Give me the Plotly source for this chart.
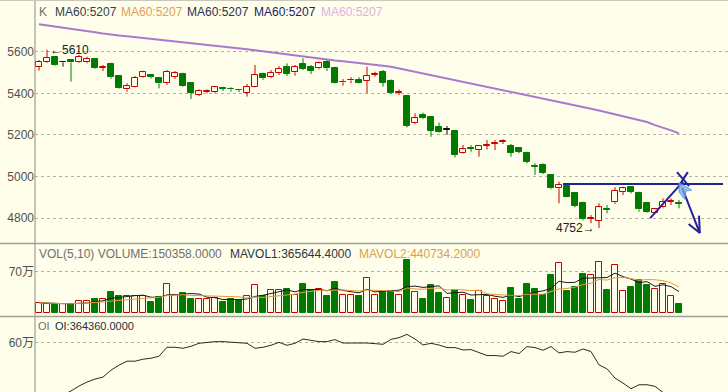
import plotly.graph_objects as go
import pandas as pd

W, H = 728, 392
BG = "#FEFEEA"
RED = "#C80000"
GREEN = "#007A00"
BLACK = "#101010"
BLUE = "#22229C"
FONT = "Liberation Sans, Arial, Noto Sans CJK SC, sans-serif"

# ---------------- data ----------------
opens = [5528, 5552, 5573, 5549, 5558, 5552, 5549, 5565, 5521, 5541,
         5483, 5419, 5432, 5477, 5488, 5475, 5448, 5477, 5493, 5448,
         5392, 5408, 5405, 5424, 5422, 5418, 5403, 5432, 5493, 5477,
         5496, 5525, 5501, 5541, 5525, 5520, 5552, 5520, 5452, 5462,
         5464, 5461, 5490, 5504, 5461, 5403, 5389, 5256, 5296, 5288,
         5240, 5224, 5219, 5111, 5137, 5127, 5149, 5157, 5165, 5146,
         5135, 5111, 5052, 5055, 5007, 4943, 4954, 4919, 4871, 4796,
         4788, 4845, 4876, 4927, 4948, 4922, 4871, 4826, 4852, 4877,
         4873]
highs = [5560, 5610, 5579, 5549, 5563, 5584, 5576, 5568, 5536, 5547,
         5485, 5448, 5483, 5509, 5493, 5477, 5512, 5507, 5499, 5451,
         5419, 5419, 5435, 5432, 5429, 5421, 5445, 5536, 5499, 5512,
         5531, 5544, 5536, 5568, 5536, 5552, 5560, 5528, 5469, 5477,
         5477, 5528, 5504, 5512, 5467, 5419, 5392, 5304, 5307, 5291,
         5259, 5243, 5224, 5151, 5151, 5151, 5175, 5175, 5179, 5156,
         5140, 5119, 5063, 5063, 5012, 4975, 4959, 4922, 4879, 4815,
         4871, 4863, 4948, 4951, 4951, 4927, 4874, 4847, 4895, 4895,
         4887]
lows = [5509, 5547, 5533, 5528, 5456, 5547, 5544, 5517, 5507, 5470,
        5421, 5408, 5429, 5474, 5470, 5424, 5440, 5469, 5432, 5373,
        5387, 5400, 5400, 5411, 5408, 5405, 5384, 5429, 5464, 5472,
        5488, 5483, 5485, 5512, 5493, 5515, 5507, 5448, 5437, 5448,
        5448, 5400, 5480, 5432, 5397, 5392, 5236, 5252, 5275, 5191,
        5211, 5200, 5092, 5108, 5119, 5095, 5130, 5127, 5156, 5095,
        5111, 5063, 5007, 5012, 4938, 4871, 4900, 4852, 4788, 4775,
        4752, 4823, 4868, 4911, 4919, 4831, 4826, 4823, 4847, 4863,
        4847]
closes = [5552, 5571, 5536, 5549, 5549, 5576, 5565, 5520, 5525, 5477,
          5424, 5435, 5475, 5501, 5477, 5448, 5504, 5496, 5435, 5403,
          5413, 5411, 5429, 5421, 5419, 5415, 5432, 5488, 5472, 5499,
          5517, 5493, 5528, 5517, 5509, 5544, 5520, 5451, 5456, 5466,
          5451, 5483, 5494, 5451, 5400, 5408, 5243, 5280, 5280, 5220,
          5216, 5224, 5103, 5130, 5133, 5146, 5153, 5161, 5169, 5114,
          5119, 5071, 5048, 5018, 4943, 4959, 4903, 4858, 4794, 4801,
          4852, 4840, 4932, 4943, 4927, 4842, 4831, 4842, 4879, 4881,
          4869]
volumes = [172000, 155000, 144000, 155000, 144000, 195000, 207000, 241000, 241000, 356000,
           282000, 293000, 293000, 282000, 184000, 270000, 500000, 299000, 345000, 230000,
           230000, 230000, 259000, 184000, 241000, 213000, 287000, 471000, 287000, 397000,
           397000, 402000, 310000, 488000, 385000, 414000, 287000, 529000, 299000, 299000,
           287000, 603000, 299000, 356000, 374000, 299000, 902000, 356000, 241000, 471000,
           339000, 259000, 397000, 299000, 224000, 374000, 282000, 236000, 201000, 431000,
           230000, 488000, 414000, 310000, 644000, 845000, 368000, 443000, 661000, 655000,
           874000, 385000, 816000, 368000, 443000, 569000, 471000, 414000, 500000, 282000,
           150358]
ma60 = [5732, 5727, 5722, 5717, 5711, 5705, 5699, 5694, 5688, 5682,
        5678, 5674, 5670, 5666, 5662, 5658, 5654, 5650, 5646, 5642,
        5638, 5634, 5630, 5627, 5623, 5618, 5612, 5607, 5602, 5596,
        5591, 5586, 5580, 5575, 5571, 5567, 5562, 5558, 5554, 5549,
        5545, 5540, 5536, 5532, 5528, 5520, 5512, 5504, 5497, 5489,
        5481, 5473, 5465, 5457, 5449, 5441, 5433, 5425, 5417, 5409,
        5401, 5393, 5385, 5377, 5369, 5361, 5352, 5343, 5334, 5326,
        5317, 5308, 5299, 5290, 5281, 5272, 5262, 5247, 5235, 5222,
        5207]
oi = [363800, 375000, 386300, 401300, 416300, 435000, 450000, 461300, 468800, 495000,
      513800, 528800, 528800, 536300, 540000, 547500, 581300, 581300, 577500, 585000,
      596300, 600000, 602600, 602600, 600000, 600000, 596300, 577500, 581300, 588800,
      600000, 588800, 596300, 612400, 607500, 602600, 602600, 610100, 597400, 597400,
      600000, 597400, 595100, 592500, 611300, 617600, 630000, 612400, 589900, 596300,
      589900, 580100, 580100, 571100, 572600, 562500, 550100, 550100, 547500, 565100,
      557600, 583900, 580100, 570000, 583900, 559900, 565100, 562500, 574900, 565100,
      514900, 499900, 465000, 446300, 424900, 439900, 439900, 433900, 408800, 386300,
      364360]

price_ticks = [4800, 5000, 5200, 5400, 5600]
vol_ticks = [700000]
vol_tick_text = ["70万"]
oi_ticks = [600000]
oi_tick_text = ["60万"]

idx = list(range(len(closes)))

# ---------------- helpers ----------------
def kind(o, c):
    if c > o:
        return "up"
    if c < o:
        return "down"
    return "flat"

kinds = [kind(o, c) for o, c in zip(opens, closes)]
col_of = {"up": RED, "down": GREEN, "flat": BLACK}

fig = go.Figure()

# wicks (split so they don't cross hollow bodies)
for k in ["up", "down", "flat"]:
    xs, ys = [], []
    for i in idx:
        if kinds[i] != k:
            continue
        top = max(opens[i], closes[i])
        bot = min(opens[i], closes[i])
        xs += [i, i, None, i, i, None]
        ys += [highs[i], top, None, bot, lows[i], None]
    fig.add_trace(go.Scatter(x=xs, y=ys, mode="lines", line=dict(color=col_of[k], width=1),
                             hoverinfo="skip", xaxis="x", yaxis="y"))

# bodies
for k in ["up", "down", "flat"]:
    sel = [i for i in idx if kinds[i] == k]
    bases = [min(opens[i], closes[i]) for i in sel]
    hts = [max(abs(closes[i] - opens[i]), 2) for i in sel]
    fill = BG if k == "up" else col_of[k]
    fig.add_trace(go.Bar(x=sel, y=hts, base=bases, width=0.75,
                         marker=dict(color=fill, line=dict(color=col_of[k], width=1)),
                         hoverinfo="skip", xaxis="x", yaxis="y"))

# MA60
fig.add_trace(go.Scatter(x=idx, y=ma60, mode="lines", line=dict(color="#AC78CE", width=2),
                         hoverinfo="skip", xaxis="x", yaxis="y"))

# volume bars
vol_up = [i for i in idx if kinds[i] != "down"]
vol_dn = [i for i in idx if kinds[i] == "down"]
fig.add_trace(go.Bar(x=vol_up, y=[volumes[i] for i in vol_up], width=0.75,
                     marker=dict(color=BG, line=dict(color=RED, width=1)),
                     hoverinfo="skip", xaxis="x", yaxis="y2"))
fig.add_trace(go.Bar(x=vol_dn, y=[volumes[i] for i in vol_dn], width=0.75,
                     marker=dict(color=GREEN, line=dict(color=GREEN, width=1)),
                     hoverinfo="skip", xaxis="x", yaxis="y2"))

vs = pd.Series(volumes, dtype=float)
mavol1 = vs.rolling(5, min_periods=1).mean()
mavol2 = vs.rolling(10, min_periods=1).mean()
fig.add_trace(go.Scatter(x=idx, y=mavol1, mode="lines", line=dict(color="#1A1A1A", width=1),
                         hoverinfo="skip", xaxis="x", yaxis="y2"))
fig.add_trace(go.Scatter(x=idx, y=mavol2, mode="lines", line=dict(color="#E09A40", width=1),
                         hoverinfo="skip", xaxis="x", yaxis="y2"))

# OI line
fig.add_trace(go.Scatter(x=idx, y=oi, mode="lines", line=dict(color="#2A2A2A", width=1),
                         hoverinfo="skip", xaxis="x", yaxis="y3"))

# ---------------- layout ----------------
def py(p):
    return 1 - p / H

def px(p):
    return p / W

tickfont = dict(family=FONT, size=12, color="#505050")
common_y = dict(showgrid=True, gridcolor="#B4B4A6", griddash="dot", gridwidth=1,
                zeroline=False, showline=False, ticks="", tickfont=tickfont,
                anchor="x", side="left", fixedrange=True)

fig.update_layout(
    width=W, height=H, margin=dict(l=0, r=0, t=0, b=0),
    paper_bgcolor=BG, plot_bgcolor=BG, showlegend=False,
    barmode="overlay", bargap=0,
    xaxis=dict(domain=[px(35), 1], range=[-0.5, 86.125], showgrid=False, zeroline=False,
               showticklabels=False, showline=False, ticks="", anchor="y3", fixedrange=True),
    yaxis=dict(domain=[py(243), 1], range=[4680.2, 5848.6], tickvals=price_ticks, **common_y),
    yaxis2=dict(domain=[py(316.5), py(243)], range=[-63800, 1194800], tickvals=vol_ticks,
                ticktext=vol_tick_text, **common_y),
    yaxis3=dict(domain=[0, py(316.5)], range=[412500, 697500], tickvals=oi_ticks,
                ticktext=oi_tick_text, **common_y),
)

shapes = [
    dict(type="line", xref="paper", yref="paper", x0=px(35), x1=px(35), y0=0, y1=1,
         line=dict(color="#8C8C80", width=1)),
    dict(type="line", xref="paper", yref="paper", x0=0, x1=1, y0=py(243.5), y1=py(243.5),
         line=dict(color="#A0A096", width=1.5)),
    dict(type="line", xref="paper", yref="paper", x0=0, x1=1, y0=py(316.5), y1=py(316.5),
         line=dict(color="#A0A096", width=1.5)),
    dict(type="line", xref="paper", yref="paper", x0=0, x1=1, y0=py(0.5), y1=py(0.5),
         line=dict(color="#C8C8BC", width=1)),
    # hand-drawn marks
    dict(type="line", xref="x", yref="y", x0=65.5, x1=85.5, y0=4964, y1=4964,
         line=dict(color=BLUE, width=2)),
    dict(type="line", xref="x", yref="y", x0=76.4, x1=80.5, y0=4800, y1=4975,
         line=dict(color=BLUE, width=2)),
    dict(type="line", xref="x", yref="y", x0=79.75, x1=81.25, y0=5021, y1=4954,
         line=dict(color=BLUE, width=2)),
    dict(type="line", xref="x", yref="y", x0=81.1, x1=79.9, y0=5021, y1=4949,
         line=dict(color=BLUE, width=2)),
    dict(type="line", xref="x", yref="y", x0=80.4, x1=82.6, y0=4945, y1=4728,
         line=dict(color=BLUE, width=2)),
    dict(type="line", xref="x", yref="y", x0=82.6, x1=81.2, y0=4728, y1=4772,
         line=dict(color=BLUE, width=2)),
    dict(type="line", xref="x", yref="y", x0=82.6, x1=82.5, y0=4728, y1=4812,
         line=dict(color=BLUE, width=2)),
    dict(type="path", xref="x", yref="y",
         path="M 80.0 4970 L 81.6 4935 L 80.9 4930 L 80.7 4890 L 80.0 4925 Z",
         fillcolor="rgba(110,170,230,0.75)", line=dict(color="rgba(90,150,220,0.8)", width=1)),
]
fig.update_layout(shapes=shapes)

def txt(x, y, s, color, size=12):
    return dict(xref="paper", yref="paper", x=px(x), y=py(y), text=s, showarrow=False,
                xanchor="left", yanchor="middle", font=dict(family=FONT, size=size, color=color))

ann = [
    txt(37, 12, "K", "#707070"),
    txt(53, 12, "MA60:5207", "#34404E"),
    txt(119, 12, "MA60:5207", "#E0A050"),
    txt(185, 12, "MA60:5207", "#303050"),
    txt(252, 12, "MA60:5207", "#1C1C6C"),
    txt(319, 12, "MA60:5207", "#DDB0E4"),
    txt(37, 254, "VOL(5,10) VOLUME:150358.0000", "#707070"),
    txt(228, 254, "MAVOL1:365644.4000", "#2A3646"),
    txt(357, 254, "MAVOL2:440734.2000", "#D9A050"),
    txt(36, 326, "OI", "#707070", 11),
    txt(53, 326, "OI:364360.0000", "#203040", 11),
    dict(xref="x", yref="y", x=1.1, y=5610, text="←5610", showarrow=False, xanchor="left",
         yanchor="middle", font=dict(family=FONT, size=12, color="#202020")),
    dict(xref="x", yref="y", x=69.7, y=4752, text="4752→", showarrow=False, xanchor="right",
         yanchor="middle", font=dict(family=FONT, size=12, color="#202020")),
]
fig.update_layout(annotations=ann)

fig.write_html("out.html", config={"displayModeBar": False},
               post_script="document.body.style.margin='0';document.body.style.padding='0';"
                           "document.documentElement.style.overflow='hidden';")
